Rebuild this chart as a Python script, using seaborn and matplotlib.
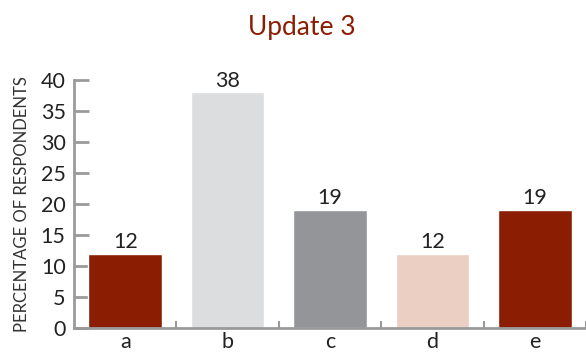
import matplotlib
matplotlib.use("Agg")
import matplotlib.pyplot as plt
import seaborn as sns
import pandas as pd
from matplotlib.ticker import FixedLocator

categories = ["a", "b", "c", "d", "e"]
values = [12, 38, 19, 12, 19]
colors = ["#8B1E02", "#DCDDDF", "#939598", "#EBCFC2", "#8B1E02"]
yticks = [0, 5, 10, 15, 20, 25, 30, 35, 40]
title = "Update 3"
ylabel = "PERCENTAGE OF RESPONDENTS"

sns.set_theme(style="white")
plt.rcParams["font.family"] = ["Lato", "DejaVu Sans"]

df = pd.DataFrame({"cat": categories, "val": values})

fig = plt.figure(figsize=(5.86, 3.55), dpi=100)
ax = fig.add_axes([74/586, 27/355, 512/586, 248/355])

sns.barplot(data=df, x="cat", y="val", hue="cat", palette=colors, legend=False,
            width=0.72, saturation=1, ax=ax)

for i, v in enumerate(values):
    ax.text(i, v + 0.3, f"{v}", ha="center", va="bottom", fontsize=15.5, color="#222222")

ax.set_xlim(-0.5, 4.5)
ax.set_ylim(0, 40)
ax.set_yticks(yticks)
ax.set_xlabel("")
ax.set_ylabel(ylabel, fontsize=12, color="#333333", labelpad=8)

for s in ["top", "right"]:
    ax.spines[s].set_visible(False)
for s in ["left", "bottom"]:
    ax.spines[s].set_color("#9A9A9A")
    ax.spines[s].set_linewidth(2)

ax.tick_params(axis="y", direction="in", length=11, width=2, color="#9A9A9A",
               labelsize=15.5, labelcolor="#222222", pad=6, left=True)
ax.tick_params(axis="x", which="major", length=0, labelsize=15.5, labelcolor="#222222", pad=3)
ax.xaxis.set_minor_locator(FixedLocator([0.5, 1.5, 2.5, 3.5, 4.5]))
ax.tick_params(axis="x", which="minor", direction="in", length=5, width=1.5,
               color="#9A9A9A", bottom=True)

fig.text(302/586, 1 - 28/355, title, ha="center", va="center", fontsize=19, color="#8B1E02")

fig.savefig("out.png", dpi=100)
